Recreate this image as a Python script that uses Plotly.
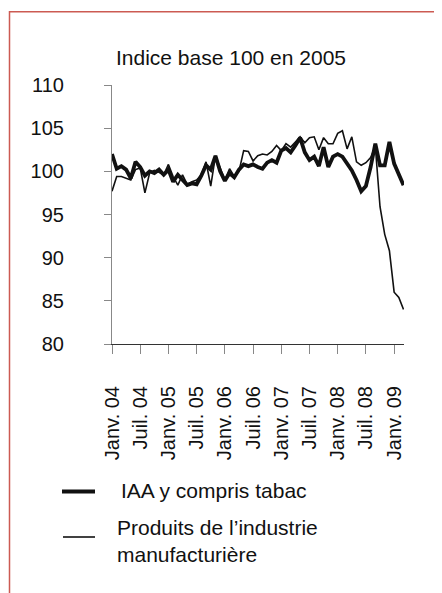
import plotly.graph_objects as go

# ---- data ----
months = list(range(63))  # Jan 2004 .. Mar 2009
iaa = [102.0, 100.3, 100.6, 100.2, 99.2, 101.1, 100.5, 99.5, 100.0, 99.8, 100.2, 99.6,
       100.2, 98.8, 99.6, 99.0, 98.4, 98.6, 98.5, 99.5, 100.7, 100.2, 101.8, 100.0,
       98.9, 99.8, 99.3, 100.2, 100.8, 100.6, 100.8, 100.5, 100.3, 101.0, 101.3, 101.0,
       102.4, 102.7, 102.2, 103.0, 103.9, 102.2, 101.3, 101.7, 100.6, 102.8, 100.5, 101.7,
       102.0, 101.7, 100.9, 100.1, 99.0, 97.7, 98.3, 100.5, 103.2, 100.7, 100.7, 103.4,
       100.9, 99.5, 98.4]
manuf = [97.7, 99.4, 99.4, 99.2, 99.0, 100.2, 100.4, 97.5, 99.8, 100.1, 99.9, 99.6,
         100.8, 99.4, 98.4, 99.6, 98.5, 98.8, 99.0, 99.6, 101.1, 98.3, 101.8, 100.4,
         99.0, 100.3, 99.4, 100.0, 102.4, 102.3, 101.2, 101.8, 102.0, 101.9, 102.3, 103.0,
         102.4, 103.2, 102.8, 103.4, 104.0, 103.3, 103.9, 104.0, 102.5, 103.9, 103.2, 103.2,
         104.4, 104.7, 102.6, 104.0, 101.1, 100.7, 101.0, 101.6, 102.9, 95.9, 92.7, 90.8,
         86.0, 85.4, 84.0]
tick_vals = [0, 6, 12, 18, 24, 30, 36, 42, 48, 54, 60]
tick_text = ["Janv. 04", "Juil. 04", "Janv. 05", "Juil. 05", "Janv. 06", "Juil. 06",
             "Janv. 07", "Juil. 07", "Janv. 08", "Juil. 08", "Janv. 09"]
y_ticks = [80, 85, 90, 95, 100, 105, 110]
names = ["IAA y compris tabac", "Produits de l’industrie<br>manufacturière"]
title_text = "Indice base 100 en 2005"

# ---- layout geometry ----
FW, FH = 442, 593
OFF = 8  # page body margin
ML, MR, MT, MB = 104, 46, 77, 257
PW, PH = FW - ML - MR, FH - MT - MB

def px(x):
    return (x - OFF - ML) / PW

def py(y):
    return (FH - MB - (y - OFF)) / PH

FONT = "Liberation Sans, Arial, sans-serif"

fig = go.Figure()
fig.add_trace(go.Scatter(x=months, y=iaa, mode="lines", name=names[0],
                         line=dict(color="#111111", width=3.8), showlegend=False))
fig.add_trace(go.Scatter(x=months, y=manuf, mode="lines", name=names[1],
                         line=dict(color="#111111", width=1.6), showlegend=False))

shapes = [
    # outer frame (partially cropped)
    dict(type="rect", xref="paper", yref="paper", x0=px(9.5), x1=px(470), y0=py(640), y1=py(11.7),
         line=dict(color="#cc5a52", width=1.5), fillcolor="rgba(0,0,0,0)", layer="below"),
    # legend samples
    dict(type="line", xref="paper", yref="paper", x0=px(62), x1=px(95), y0=py(491.5), y1=py(491.5),
         line=dict(color="#111111", width=3.8)),
    dict(type="line", xref="paper", yref="paper", x0=px(63), x1=px(95), y0=py(537), y1=py(537),
         line=dict(color="#111111", width=1.6)),
]

annotations = [
    dict(text=title_text, xref="paper", yref="paper", x=px(114), y=py(57), xanchor="left",
         yanchor="middle", showarrow=False, font=dict(family=FONT, size=21, color="#111111")),
    dict(text=names[0], xref="paper", yref="paper", x=px(119), y=py(490), xanchor="left",
         yanchor="middle", showarrow=False, font=dict(family=FONT, size=21, color="#111111")),
    dict(text=names[1], xref="paper", yref="paper", x=px(115), y=py(541), xanchor="left",
         yanchor="middle", align="left", showarrow=False,
         font=dict(family=FONT, size=21, color="#111111")),
]

fig.update_layout(
    width=FW, height=FH,
    margin=dict(l=ML, r=MR, t=MT, b=MB, pad=0),
    paper_bgcolor="white", plot_bgcolor="white",
    font=dict(family=FONT, size=20, color="#111111"),
    shapes=shapes, annotations=annotations,
    xaxis=dict(range=[0, 62.1], tickmode="array", tickvals=tick_vals, ticktext=tick_text,
               tickangle=-90, showgrid=False, zeroline=False, showline=True,
               linecolor="#333333", linewidth=1, ticks="outside", ticklen=9,
               tickcolor="#888888", tickwidth=1, ticklabelstandoff=24,
               tickfont=dict(family=FONT, size=20, color="#111111")),
    yaxis=dict(range=[80, 110], tickmode="array", tickvals=y_ticks, showgrid=False,
               zeroline=False, showline=True, linecolor="#888888", linewidth=1.2,
               ticks="outside", ticklen=7, tickcolor="#888888", tickwidth=1,
               ticklabelstandoff=36,
               tickfont=dict(family=FONT, size=20, color="#111111")),
)

fig.write_html("out.html")
